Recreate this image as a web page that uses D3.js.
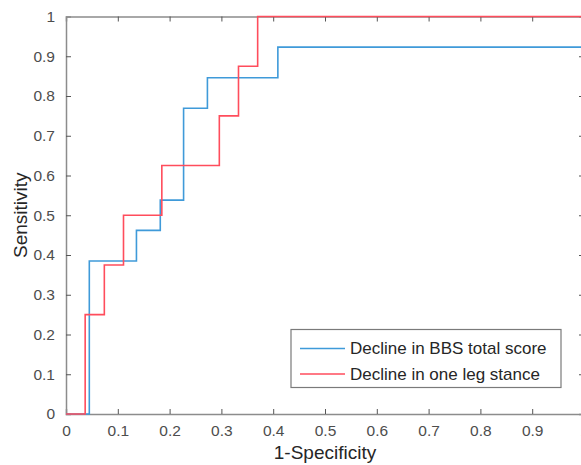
<!DOCTYPE html>
<html>
<head>
<meta charset="utf-8">
<script src="https://cdn.jsdelivr.net/npm/d3@7"></script>
<style>
  body { margin: 0; background: #fff; }
  svg { display: block; font-family: "Liberation Sans", Arial, Helvetica, sans-serif; }
</style>
</head>
<body>
<div id="chart"></div>
<script>
// ROC corner points (1-specificity, sensitivity), drawn as step-after curves
var bbsFpr = [0, 0.045, 0.136, 0.182, 0.227, 0.273, 0.409, 1];
var bbsTpr = [0, 0.385, 0.462, 0.538, 0.769, 0.846, 0.923, 0.923];
var olsFpr = [0, 0.037, 0.074, 0.111, 0.185, 0.296, 0.333, 0.370, 1];
var olsTpr = [0, 0.25, 0.375, 0.5, 0.625, 0.75, 0.875, 1, 1];
var seriesNames = ['Decline in BBS total score', 'Decline in one leg stance'];
var xTicks = [0, 0.1, 0.2, 0.3, 0.4, 0.5, 0.6, 0.7, 0.8, 0.9, 1];
var yTicks = [0, 0.1, 0.2, 0.3, 0.4, 0.5, 0.6, 0.7, 0.8, 0.9, 1];

var W = 581, H = 465;
var colors = ['#3f9ad9', '#ff4d5c'];

var svg = d3.select('#chart').append('svg')
  .attr('width', W)
  .attr('height', H);

// plot box runs past the right edge, like the cropped original
var x = d3.scaleLinear().domain([0, 1]).range([66, 584]);
var y = d3.scaleLinear().domain([0, 1]).range([414, 16.5]);

var axisColor = '#8c8c8c';
var tickColor = '#555';
var fmt = function(d) { return d === 0 || d === 1 ? String(d) : d3.format('.1f')(d); };

// bottom axis
var gx = svg.append('g')
  .attr('transform', 'translate(0,' + y(0) + ')')
  .call(d3.axisBottom(x).tickValues(xTicks).tickSize(-5).tickPadding(11).tickFormat(fmt));
// left axis
var gy = svg.append('g')
  .attr('transform', 'translate(' + x(0) + ',0)')
  .call(d3.axisLeft(y).tickValues(yTicks).tickSize(-5).tickPadding(11).tickFormat(fmt));
// top and right box edges, ticks only
var gt = svg.append('g')
  .attr('transform', 'translate(0,' + y(1) + ')')
  .call(d3.axisTop(x).tickValues(xTicks).tickSize(-5).tickFormat(''));
var gr = svg.append('g')
  .attr('transform', 'translate(' + x(1) + ',0)')
  .call(d3.axisRight(y).tickValues(yTicks).tickSize(-5).tickFormat(''));

[gx, gy, gt, gr].forEach(function(g) {
  g.select('.domain').attr('stroke', axisColor).attr('stroke-width', 1.5);
  g.selectAll('.tick line').attr('stroke', tickColor).attr('stroke-width', 1);
  g.selectAll('.tick text')
    .attr('fill', '#4d4d4d')
    .style('font-size', '15.5px')
    .style('font-family', '"Liberation Sans", Arial, sans-serif');
});
gx.selectAll('.tick line').filter(function(d) { return d === 0 || d === 1; }).remove();
gy.selectAll('.tick line').filter(function(d) { return d === 0 || d === 1; }).remove();
gt.selectAll('.tick line').filter(function(d) { return d === 0 || d === 1; }).remove();
gr.selectAll('.tick line').filter(function(d) { return d === 0 || d === 1; }).remove();

// curves
var line = d3.line()
  .x(function(d) { return x(d[0]); })
  .y(function(d) { return y(d[1]); })
  .curve(d3.curveStepAfter);

var series = [
  d3.zip(bbsFpr, bbsTpr),
  d3.zip(olsFpr, olsTpr)
];

// red drawn last so it sits on top
svg.selectAll('path.roc')
  .data(series)
  .join('path')
  .attr('class', 'roc')
  .attr('d', line)
  .attr('fill', 'none')
  .attr('stroke', function(d, i) { return colors[i]; })
  .attr('stroke-width', 1.6);

// axis labels
svg.append('text')
  .attr('x', x(0.5))
  .attr('y', 459)
  .attr('text-anchor', 'middle')
  .attr('fill', '#262626')
  .style('font-size', '19px')
  .text('1-Specificity');

svg.append('text')
  .attr('transform', 'translate(27,' + y(0.5) + ') rotate(-90)')
  .attr('text-anchor', 'middle')
  .attr('fill', '#262626')
  .style('font-size', '19px')
  .text('Sensitivity');

// legend
var lg = svg.append('g').attr('transform', 'translate(291,329.5)');
lg.append('rect')
  .attr('width', 270)
  .attr('height', 58)
  .attr('fill', '#fff')
  .attr('stroke', '#7a7a7a')
  .attr('stroke-width', 1.2);

var rows = lg.selectAll('g.row')
  .data(seriesNames)
  .join('g')
  .attr('class', 'row')
  .attr('transform', function(d, i) { return 'translate(0,' + (19 + i * 25.5) + ')'; });

rows.append('line')
  .attr('x1', 9).attr('x2', 54)
  .attr('stroke', function(d, i) { return colors[i]; })
  .attr('stroke-width', 1.4);

rows.append('text')
  .attr('x', 59)
  .attr('dy', '0.35em')
  .attr('fill', '#262626')
  .style('font-size', '17px')
  .text(function(d) { return d; });
</script>
</body>
</html>
